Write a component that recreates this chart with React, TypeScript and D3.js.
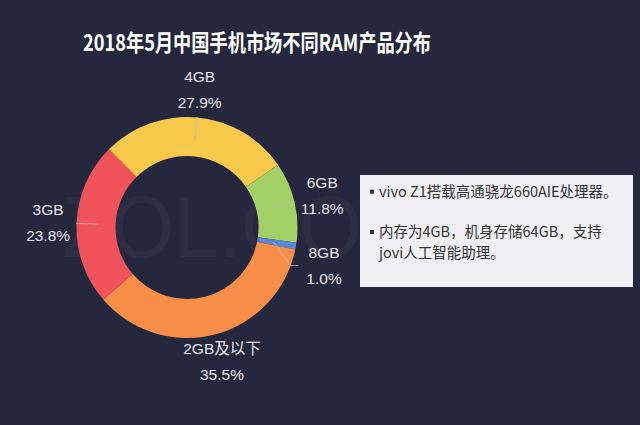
import React from "react";
import * as d3 from "d3";

const title = "2018年5月中国手机市场不同RAM产品分布";
const categories = ["4GB", "6GB", "8GB", "2GB及以下", "3GB"];
const shares = [27.9, 11.8, 1.0, 35.5, 23.8];
const colors = ["#F8C94B", "#A3CF67", "#5A86DA", "#F68E48", "#F0545A"];
const notes = [
  ["vivo Z1搭载高通骁龙660AIE处理器。"],
  ["内存为4GB，机身存储64GB，支持", "jovi人工智能助理。"],
];
const watermark = "ZOL.CO";

const W = 640;
const H = 425;
const cx = 187;
const cy = 227.5;
const rOuter = 110.5;
const rInner = 71.5;
const startAngle = -Math.PI / 4;

export default function App() {
  const pie = d3
    .pie<number>()
    .sort(null)
    .value((d) => d)
    .startAngle(startAngle)
    .endAngle(startAngle + Math.PI * 2);
  const arcs = pie(shares);
  const arcGen = d3.arc<d3.PieArcDatum<number>>().innerRadius(rInner).outerRadius(rOuter);

  const polar = (a: number, r: number) => [Math.sin(a) * r, -Math.cos(a) * r];

  const labels = arcs.map((a, i) => {
    const mid = (a.startAngle + a.endAngle) / 2;
    const [x, y] = polar(mid, 139);
    return { i, mid, x, y, shifted: false };
  });
  const right = labels.filter((l) => l.x > 60).sort((a, b) => a.y - b.y);
  for (let k = 1; k < right.length; k++) {
    const prev = right[k - 1];
    const cur = right[k];
    if (cur.y - prev.y < 70) {
      cur.y = prev.y + 70;
      cur.shifted = true;
    }
  }

  const labelFont = '"Liberation Sans", "Noto Sans CJK SC", sans-serif';
  const noteTops = [191.7, 232];

  return (
    <svg width={W} height={H} style={{ position: "fixed", left: 0, top: 0, display: "block" }}>
      <rect x={0} y={0} width={W} height={H} fill="#25273D" />
      <text
        x={62}
        y={257}
        fontSize={88}
        fontFamily='"Liberation Sans", sans-serif'
        fontWeight={300}
        fill="#ffffff"
        fillOpacity={0.035}
        textLength={300}
        lengthAdjust="spacingAndGlyphs"
      >
        {watermark}
      </text>
      <text
        x={257}
        y={51}
        textAnchor="middle"
        fontSize={23}
        fontWeight="bold"
        fontFamily='"Noto Sans CJK SC", sans-serif'
        fill="#ffffff"
        textLength={348}
        lengthAdjust="spacingAndGlyphs"
      >
        {title}
      </text>
      <g transform={`translate(${cx},${cy})`}>
        {arcs.map((a, i) => (
          <path key={i} d={arcGen(a) || ""} fill={colors[i]} />
        ))}
        {labels.map((l) => {
          if (Math.abs(l.x) < 60 && l.y > 0) return null;
          const p1 = polar(l.mid, 88);
          const pts: number[][] = [p1];
          if (l.shifted) {
            const pe = polar(l.mid, 111);
            pts.push([pe[0] - 6, l.y]);
            pts.push([pe[0] + 2, l.y]);
          } else {
            const d = Math.hypot(l.x, l.y);
            pts.push([(l.x / d) * 111, (l.y / d) * 111]);
          }
          return (
            <polyline
              key={"l" + l.i}
              points={pts.map((p) => p.join(",")).join(" ")}
              fill="none"
              stroke="#B8B8C0"
              strokeOpacity={0.8}
              strokeWidth={1}
            />
          );
        })}
        {labels.map((l) => (
          <g key={"t" + l.i} fontFamily={labelFont} fontSize={15.5} fill="#E4E4EC" textAnchor="middle">
            <text x={l.x} y={l.y - 13} dy="0.35em">
              {categories[l.i]}
            </text>
            <text x={l.x} y={l.y + 13} dy="0.35em">
              {shares[l.i].toFixed(1) + "%"}
            </text>
          </g>
        ))}
      </g>
      <rect x={360} y={175} width={273} height={112} fill="#F0F0F2" />
      <g fontFamily='"Noto Sans CJK SC", sans-serif' fontSize={14.5} fill="#333333">
        {notes.map((para, pi) => (
          <rect key={"b" + pi} x={370} y={noteTops[pi] - 2} width={4} height={4} fill="#333333" />
        ))}
        {notes.flatMap((para, pi) =>
          para.map((line, li) => (
            <text key={pi + "-" + li} x={379} y={noteTops[pi] + li * 20.5} dy="0.35em">
              {line}
            </text>
          ))
        )}
      </g>
    </svg>
  );
}
